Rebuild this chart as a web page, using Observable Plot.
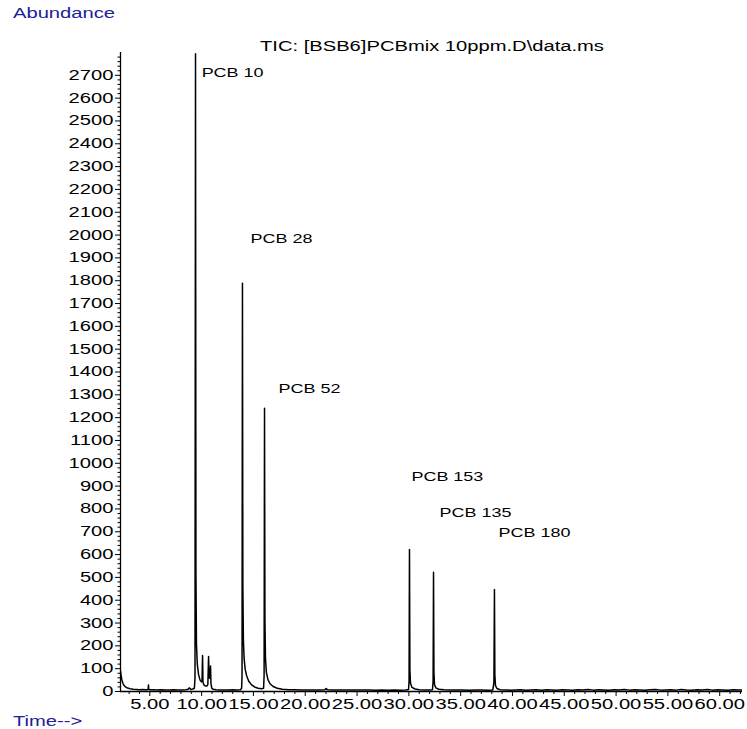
<!DOCTYPE html>
<html>
<head>
<meta charset="utf-8">
<script src="https://cdn.jsdelivr.net/npm/d3@7"></script>
<script src="https://cdn.jsdelivr.net/npm/@observablehq/plot@0.6"></script>
<style>
  html, body { margin: 0; padding: 0; background: #fff; }
  #wrap { position: relative; width: 747px; height: 729px; overflow: hidden; }
  #wrap svg { display: block; position: absolute; left: 0; top: 0; }
  .cap {
    position: absolute; white-space: nowrap;
    font-family: "Liberation Sans", Arial, sans-serif; font-size: 14px; line-height: 16px;
    transform: scaleX(1.44); transform-origin: 0 50%;
  }
  .axis-name { color: #20209a; }
</style>
</head>
<body>
<div id="wrap">
  <div class="cap axis-name" style="left:13px;top:5px">Abundance</div>
  <div class="cap" style="left:260px;top:38px">TIC: [BSB6]PCBmix 10ppm.D\data.ms</div>
  <div class="cap axis-name" style="left:13px;top:713px">Time--&gt;</div>
</div>
<script>
// Total ion chromatogram: retention time (min) and abundance
const retentionTime = [
  2.17, 2.22, 2.3, 2.4, 2.5, 2.65, 2.85, 3.1, 3.4, 3.7, 4.0, 4.3, 4.6, 4.8, 4.84, 4.87, 4.9, 4.95,
  5.3, 5.7, 6.1, 6.5, 6.9, 7.3, 7.7, 8.1, 8.5, 8.7, 8.8, 8.86, 8.95, 9.05, 9.2, 9.3,
  9.36, 9.41, 9.45, 9.5, 9.58, 9.7, 9.85, 9.98, 10.04, 10.09, 10.13, 10.2, 10.35, 10.5, 10.6,
  10.67, 10.72, 10.78, 10.86, 10.9, 10.98, 11.1, 11.4, 11.8, 12.2, 12.6, 13.0, 13.4, 13.75,
  13.86, 13.9, 13.94, 13.98, 14.03, 14.1, 14.2, 14.35, 14.55, 14.8, 15.1, 15.45, 15.8,
  15.98, 16.03, 16.07, 16.11, 16.16, 16.25, 16.4, 16.6, 16.9, 17.3, 17.8, 18.4, 19.0, 19.6,
  20.2, 20.8, 21.4, 21.9, 22.0, 22.05, 22.1, 22.6, 23.2, 23.8, 24.4, 25.0, 25.6, 26.2, 26.8,
  27.4, 28.0, 28.6, 29.2, 29.7, 29.97, 30.02, 30.06, 30.1, 30.16, 30.3, 30.6, 31.0, 31.5, 32.0,
  32.28, 32.34, 32.38, 32.42, 32.48, 32.6, 32.9, 33.4, 34.0, 34.6, 35.2, 35.8, 36.4, 37.0, 37.6,
  38.1, 38.21, 38.26, 38.3, 38.36, 38.5, 38.8, 39.3, 39.8, 40.3, 40.8, 41.3, 41.8, 42.3, 42.8,
  43.3, 43.8, 44.3, 44.8, 45.3, 45.8, 46.3, 46.8, 47.3, 47.8, 48.3, 48.8, 49.3, 49.8, 50.3,
  50.8, 51.3, 51.8, 52.3, 52.8, 53.3, 53.8, 54.3, 54.8, 55.3, 55.8, 56.3, 56.8, 57.3, 57.8,
  58.3, 58.8, 59.3, 59.8, 60.3, 60.8, 61.3, 61.8, 62.2
];
const abundance = [
  90, 72, 52, 36, 27, 20, 15, 12, 10, 9, 8, 9, 8, 8, 12, 29, 10, 8,
  8, 7, 8, 7, 7, 8, 7, 7, 8, 10, 16, 14, 9, 10, 12, 14,
  60, 2795, 520, 210, 120, 75, 50, 42, 48, 158, 42, 30, 24, 24, 30,
  153, 62, 58, 112, 35, 15, 10, 8, 7, 7, 7, 8, 7, 8,
  14, 70, 1789, 460, 225, 145, 98, 68, 45, 30, 20, 14, 12,
  14, 70, 1241, 310, 145, 84, 52, 34, 22, 14, 10, 8, 8, 7,
  7, 7, 7, 8, 12, 13, 8, 7, 7, 7, 7, 7, 7, 7, 6,
  7, 6, 7, 6, 7, 9, 45, 622, 95, 36, 18, 11, 8, 7, 7,
  8, 45, 522, 82, 30, 16, 10, 8, 7, 7, 7, 6, 7, 7, 6,
  7, 40, 447, 72, 26, 13, 8, 7, 6, 7, 8, 6, 7, 8, 6,
  8, 7, 6, 8, 7, 6, 8, 7, 9, 6, 8, 7, 6, 8, 7,
  9, 6, 8, 7, 6, 8, 9, 6, 7, 8, 6, 9, 7, 6, 8,
  7, 9, 6, 8, 7, 6, 8, 7, 7
];

// Compound labels
const peakNames = ["PCB 10", "PCB 28", "PCB 52", "PCB 153", "PCB 135", "PCB 180"];
const labelTime = [10.0, 14.72, 17.42, 30.25, 32.96, 38.65];
const labelAbundance = [2710, 1985, 1328, 943, 785, 697];

// Axis ticks
const xMajor = [5, 10, 15, 20, 25, 30, 35, 40, 45, 50, 55, 60];
const xMinor = d3.range(3, 63).filter(t => t % 5 !== 0);
const yMajor = d3.range(0, 2800, 100);
const yMinor = d3.range(0, 2820, 20).filter(v => v % 100 !== 0);

const timeDomain = [2.17, 62.2];
const abundanceDomain = [0, 2800];

const trace = retentionTime.map((t, i) => ({t, a: abundance[i]}));
const labels = peakNames.map((name, i) => ({name, t: labelTime[i], a: labelAbundance[i]}));

const chart = Plot.plot({
  width: 747,
  height: 729,
  marginLeft: 120,
  marginRight: 5,
  marginTop: 52,
  marginBottom: 38,
  style: {fontFamily: "'Liberation Sans', Arial, sans-serif", fontSize: "14px", color: "black", background: "transparent"},
  x: {domain: timeDomain},
  y: {domain: abundanceDomain},
  marks: [
    Plot.axisY({ticks: yMajor, tickSize: 5, tickPadding: 2, fontSize: 14, tickFormat: d => String(d), label: null}),
    Plot.axisY({ticks: yMinor, tickSize: 2.5, text: null, label: null}),
    Plot.axisX({ticks: xMajor, tickSize: 5, tickPadding: 3, fontSize: 14, tickFormat: d => d.toFixed(2), label: null}),
    Plot.axisX({ticks: xMinor, tickSize: 3, text: null, label: null}),
    Plot.ruleX([timeDomain[0]], {stroke: "black", strokeWidth: 1.3}),
    Plot.ruleY([0], {stroke: "black", strokeWidth: 1.5}),
    Plot.line(trace, {x: "t", y: "a", stroke: "black", strokeWidth: 1.5, clip: true}),
    Plot.text(labels, {x: "t", y: "a", text: "name", textAnchor: "start", lineAnchor: "middle", fontSize: 13.5, fill: "black", className: "peak-label"})
  ]
});

const wrap = document.getElementById("wrap");
wrap.insertBefore(chart, wrap.firstChild);

// Widen the glyphs horizontally, keeping each label's anchor
chart.querySelectorAll("text").forEach(el => {
  const stretch = el.closest(".peak-label") ? 1.33 : 1.44;
  const w = el.getComputedTextLength();
  if (w > 0) {
    el.setAttribute("textLength", (w * stretch).toFixed(1));
    el.setAttribute("lengthAdjust", "spacingAndGlyphs");
  }
});
</script>
</body>
</html>
